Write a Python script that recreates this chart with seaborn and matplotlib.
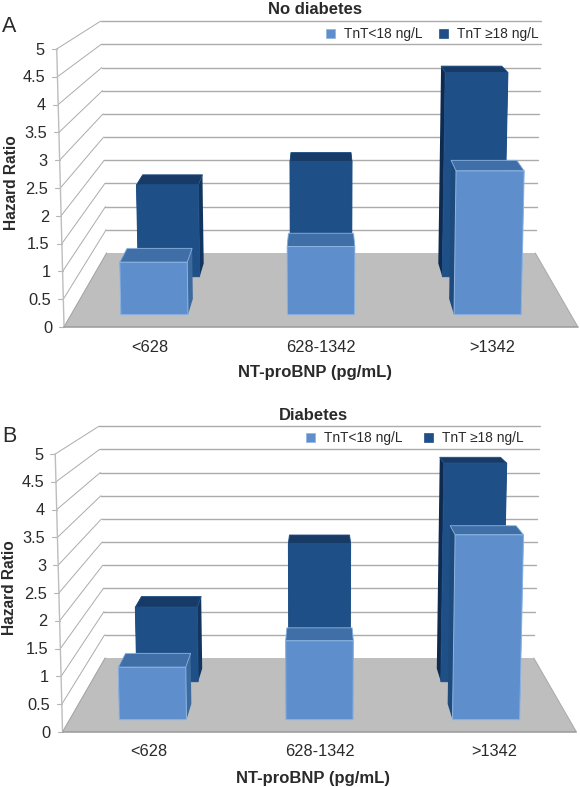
import numpy as np
import pandas as pd
import matplotlib
matplotlib.use('Agg')
import matplotlib.pyplot as plt
import matplotlib.transforms as mtransforms
from matplotlib.patches import Polygon, Rectangle
import seaborn as sns

sns.set_theme(style='white')
plt.rcParams['font.family'] = ['Liberation Sans', 'DejaVu Sans']

# Values
categories = ['<628', '628-1342', '>1342']
series_names = ['TnT ≥18 ng/L', 'TnT<18 ng/L']
low_tnt_a = [0.97, 1.26, 2.66]
high_tnt_a = [1.86, 2.33, 4.14]
low_tnt_b = [0.97, 1.46, 3.42]
high_tnt_b = [1.51, 2.80, 4.43]
y_ticks = [0, 0.5, 1, 1.5, 2, 2.5, 3, 3.5, 4, 4.5, 5]

TEXT = '#2a2a2a'
GRID = '#ababab'
FLOOR = '#bebebe'

# depth range of each bar row, 0 = front of floor, 1 = back of floor
DEPTHS = {'high': (0.68, 0.858), 'low': (0.166, 0.38)}
COLORS = {
    'high': dict(front='#1e4f86', top='#173b66', right='#123560', left='#0e2a4e', edge='#1e4f86'),
    'low': dict(front='#5e8fcc', top='#3f6fa6', right='#3c6a9e', left='#1f4a7c', edge='#8db5e4'),
}


def project(x, f, h, cx, y0):
    # x = category position, f = depth on the floor, h = hazard ratio
    x = np.asarray(x, dtype=float)
    s = 1 - 0.166 * f
    px = cx + (x - 1) * 171.3 * s * (1 + 0.0057 * np.asarray(h))
    py = y0 - 74 * f - s * 55.6 * np.asarray(h)
    return px, py


class Perspective(mtransforms.Transform):
    input_dims = 2
    output_dims = 2

    def __init__(self, f, cx, y0):
        super().__init__()
        self.f, self.cx, self.y0 = f, cx, y0

    def transform_non_affine(self, values):
        px, py = project(values[:, 0], self.f, values[:, 1], self.cx, self.y0)
        return np.column_stack([px, py])


def draw_panel(ax, low, high, cx, y0, title, title_y, letter, letter_xy, xlabel_y, legend_x, legend_y, label_shift,
               ylabel_x):
    df = pd.DataFrame({
        'bnp': categories * 2,
        'hr': high + low,
        'tnt': [series_names[0]] * 3 + [series_names[1]] * 3,
    })
    sns.barplot(data=df, x='bnp', y='hr', hue='tnt', hue_order=series_names, dodge=False, width=0.403,
                errorbar=None, saturation=1, legend=False,
                palette={series_names[0]: COLORS['high']['front'], series_names[1]: COLORS['low']['front']}, ax=ax)
    ax.set_xlim(0, 580)
    ax.set_ylim(787, 0)
    ax.axis('off')

    # floor
    corners = [(-0.5, 0), (2.5, 0), (2.5, 1), (-0.5, 1)]
    pts = [project(x, f, 0, cx, y0) for x, f in corners]
    ax.add_patch(Polygon(pts, closed=True, fc=FLOOR, ec='none', zorder=0.5))
    ax.plot(*zip(pts[0], pts[1]), color='#9a9a9a', lw=1.1, zorder=0.6)
    ax.plot(*zip(pts[1], pts[2]), color='#a8a8a8', lw=0.7, zorder=0.6)
    ax.plot(*zip(pts[0], pts[3]), color='#a8a8a8', lw=0.7, zorder=0.6)

    # walls
    for tick in y_ticks:
        front = project(-0.5, 0, tick, cx, y0)
        back = project(-0.5, 1, tick, cx, y0)
        right = project(2.5, 1, tick, cx, y0)
        ax.plot([front[0], back[0]], [front[1], back[1]], color=GRID, lw=0.7, zorder=0.4)
        if tick > 0:
            ax.plot([back[0], right[0]], [back[1], right[1]], color=GRID, lw=1.0, zorder=0.4)
        ax.plot([front[0] - 5, front[0]], [front[1], front[1]], color='#b5b5b5', lw=0.8, zorder=0.4)
        ax.text(front[0] - 12, front[1] + 1.2, '%g' % tick, ha='right', va='center', fontsize=11.8, color=TEXT)
    axis_bottom = project(-0.5, 0, 0, cx, y0)
    axis_top = project(-0.5, 0, 5, cx, y0)
    ax.plot([axis_bottom[0], axis_top[0]], [axis_bottom[1], axis_top[1]], color='#bdbdbd', lw=1.0, zorder=0.45)

    # bars: seaborn gives the front faces, sides and tops follow from them
    for key, container, base in (('high', ax.containers[0], 2), ('low', ax.containers[1], 4)):
        f0, f1 = DEPTHS[key]
        col = COLORS[key]
        for bar in container:
            x0 = bar.get_x()
            x1 = x0 + bar.get_width()
            h = bar.get_height()
            bar.set_transform(Perspective(f0, cx, y0) + ax.transData)
            bar.set_clip_on(False)
            bar.set_zorder(base + 1)
            bar.set_edgecolor(col['edge'])
            bar.set_linewidth(0.7)

            def face(a, b, c, d):
                return [project(*p, h=q, cx=cx, y0=y0) for p, q in (a, b, c, d)]

            left = face(((x0, f0), 0), ((x0, f1), 0), ((x0, f1), h), ((x0, f0), h))
            right = face(((x1, f0), 0), ((x1, f1), 0), ((x1, f1), h), ((x1, f0), h))
            top = face(((x0, f0), h), ((x1, f0), h), ((x1, f1), h), ((x0, f1), h))
            ax.add_patch(Polygon(left, closed=True, fc=col['left'], ec='none', zorder=base, clip_on=False))
            ax.add_patch(Polygon(right, closed=True, fc=col['right'], ec='none', zorder=base, clip_on=False))
            ax.add_patch(Polygon(top, closed=True, fc=col['top'], ec=col['edge'], lw=0.6, zorder=base + 0.5, clip_on=False))

    # labels
    for i, name in enumerate(categories):
        px, py = project(i, 0, 0, cx, y0)
        ax.text(px + label_shift[i], py + 20, name, ha='center', va='center', fontsize=11.8, color=TEXT)
    ax.text(cx - 6, xlabel_y, 'NT-proBNP (pg/mL)', ha='center', va='center', fontsize=12,
            fontweight='bold', color=TEXT)
    ax.text(ylabel_x, y0 - 144, 'Hazard Ratio', rotation=90, ha='center', va='center', fontsize=11.2,
            fontweight='bold', color=TEXT)
    ax.text(cx - 6, title_y, title, ha='center', va='center', fontsize=12, fontweight='bold', color=TEXT)
    ax.text(letter_xy[0], letter_xy[1], letter, ha='left', va='center', fontsize=15.5, color=TEXT)

    # legend
    entries = [('low', series_names[1]), ('high', series_names[0])]
    for (key, name), lx in zip(entries, legend_x):
        ax.add_patch(Rectangle((lx, legend_y - 4.5), 9, 9, fc=COLORS[key]['front'], ec=COLORS[key]['edge'], lw=0.5,
                               zorder=6))
        ax.text(lx + 18, legend_y + 0.7, name, ha='left', va='center', fontsize=9.9, color=TEXT)


fig = plt.figure(figsize=(5.8, 7.87), dpi=100)
ax_a = fig.add_axes([0, 0, 1, 1])
ax_b = fig.add_axes([0, 0, 1, 1])
ax_a.patch.set_alpha(0)
ax_b.patch.set_alpha(0)

draw_panel(ax_a, low_tnt_a, high_tnt_a, 321, 327, 'No diabetes', 9, 'A', (2, 26), 373,
           (326, 439), 33, (0, 0, 0), 12)
draw_panel(ax_b, low_tnt_b, high_tnt_b, 319.5, 732, 'Diabetes', 415, 'B', (2, 436), 778,
           (306, 424), 437, (1, 0, 3), 10)

fig.savefig('out.png', dpi=100)
